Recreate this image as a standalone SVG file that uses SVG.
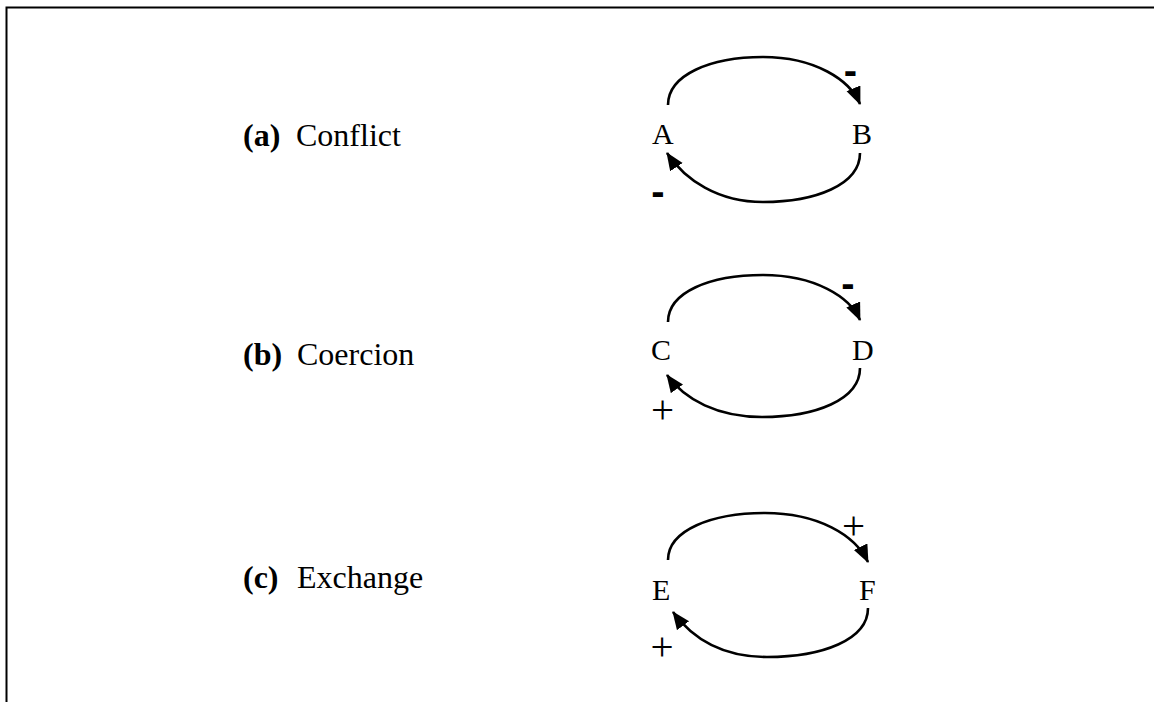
<svg xmlns="http://www.w3.org/2000/svg" width="1154" height="702" viewBox="0 0 1154 702">
<style>
.lbl{font-family:"Liberation Serif","Times New Roman",serif;font-size:32px;fill:#000}
.b{font-weight:bold}
.node{font-family:"Liberation Serif","Times New Roman",serif;font-size:30px;fill:#000}
.sign{font-family:"Liberation Sans",Arial,sans-serif;font-size:40px;fill:#000;text-anchor:middle}
.plus{font-family:"Liberation Serif","Times New Roman",serif;font-size:41px;fill:#000;text-anchor:middle}
.bold{font-weight:bold}
.arc{fill:none;stroke:#000;stroke-width:2.6;marker-end:url(#ah)}
</style>
<defs>
<marker id="ah" markerUnits="userSpaceOnUse" markerWidth="20" markerHeight="16" refX="17" refY="7.5" orient="auto" viewBox="0 0 20 16">
<path d="M0,0 L18,7.5 L0,15 z" fill="#000"/>
</marker>
</defs>
<rect width="1154" height="702" fill="#fff"/>
<path d="M6.5,702 V7.5 H1154" fill="none" stroke="#000" stroke-width="2"/>
<g id="label-a"><text class="lbl" y="146"><tspan class="b" x="243">(a)</tspan><tspan x="296">Conflict</tspan></text></g>
<g id="label-b"><text class="lbl" y="365"><tspan class="b" x="243">(b)</tspan><tspan x="297">Coercion</tspan></text></g>
<g id="label-c"><text class="lbl" y="588"><tspan class="b" x="243">(c)</tspan><tspan x="297">Exchange</tspan></text></g>
<g id="node-A"><text class="node" x="652" y="144">A</text></g>
<g id="node-B"><text class="node" x="852" y="144">B</text></g>
<g id="node-C"><text class="node" x="651" y="360">C</text></g>
<g id="node-D"><text class="node" x="852" y="360">D</text></g>
<g id="node-E"><text class="node" x="652" y="600">E</text></g>
<g id="node-F"><text class="node" x="859" y="600">F</text></g>
<g id="connectors">
<path class="arc" d="M668,105 C668,75 710,57 763,57 C815,57 850,80 860,104"/>
<path class="arc" d="M860,153 C860,185 815,202 763,202 C718,202 685,180 667,153"/>
<path class="arc" d="M668,322 C668,292 710,275 763,275 C815,275 850,297 860,320"/>
<path class="arc" d="M860,368 C860,400 815,417 762,417 C718,417 685,400 667,375"/>
<path class="arc" d="M668,560 C668,530 712,513 765,513 C818,513 855,535 868,562"/>
<path class="arc" d="M868,608 C868,640 822,657 767,657 C722,657 692,638 673,612"/>
</g>
<g id="signs">
<text class="sign bold" x="850.5" y="84">-</text>
<text class="sign bold" x="658" y="204.5">-</text>
<text class="sign bold" x="848" y="296.5">-</text>
<text class="plus" x="662.5" y="423">+</text>
<text class="plus" x="853.5" y="539">+</text>
<text class="plus" x="662" y="660">+</text>
</g>
</svg>
